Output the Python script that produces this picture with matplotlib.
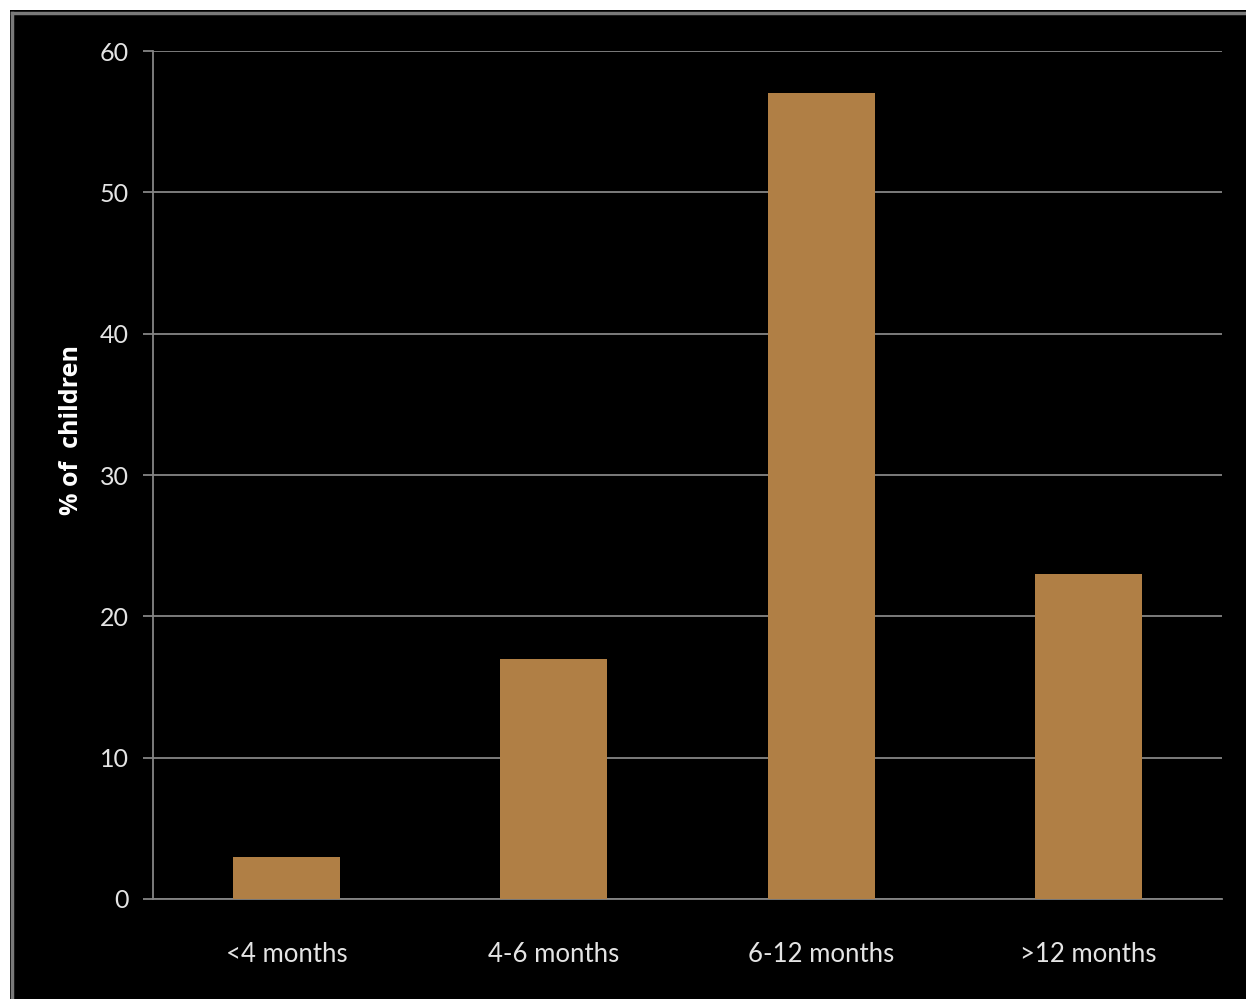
import matplotlib
matplotlib.use("Agg")
import matplotlib.pyplot as plt
from matplotlib.patches import Rectangle
from matplotlib.lines import Line2D

categories = ["<4 months", "4-6 months", "6-12 months", ">12 months"]
percent_children = [3, 17, 57, 23]
y_ticks = [0, 10, 20, 30, 40, 50, 60]

W, H = 1246, 999
fig = plt.figure(figsize=(W / 100, H / 100), dpi=100, facecolor="white")

# black slide panel with grey frame on top and left
fig.patches.append(Rectangle((10 / W, 0), 1 - 10 / W, 1 - 10 / H,
                             transform=fig.transFigure, facecolor="black",
                             edgecolor="none", zorder=-2))
fig.lines.append(Line2D([11.5 / W, 1], [1 - 13 / H, 1 - 13 / H],
                        transform=fig.transFigure, color="#7a7a7a", lw=2.5,
                        zorder=-1))
fig.lines.append(Line2D([11.5 / W, 11.5 / W], [0, 1 - 13 / H],
                        transform=fig.transFigure, color="#7a7a7a", lw=2.5,
                        zorder=-1))

ax = fig.add_axes([153 / W, 1 - 899 / H, (1222 - 153) / W, (899 - 51) / H])
ax.set_zorder(2)
ax.set_facecolor("black")

x = list(range(len(categories)))
ax.bar(x, percent_children, width=0.4, color="#b07f45", zorder=3)

ax.set_xlim(-0.5, len(categories) - 0.5)
ax.set_ylim(0, 60)
ax.set_yticks(y_ticks)
ax.set_xticks(x)
ax.set_xticklabels(categories)

grid_c = "#858585"
ax.yaxis.grid(True, color=grid_c, lw=1.3, zorder=1)
ax.xaxis.grid(False)
ax.set_axisbelow(True)
for side in ["top", "right"]:
    ax.spines[side].set_visible(False)
ax.spines["left"].set_color(grid_c)
ax.spines["bottom"].set_color(grid_c)
ax.spines["left"].set_linewidth(1.3)
ax.spines["bottom"].set_linewidth(1.3)

ax.tick_params(axis="y", direction="out", length=7.5, width=1.3, color=grid_c,
               labelcolor="#e4e4e4", labelsize=18, pad=10)
ax.tick_params(axis="x", length=0, labelcolor="#e4e4e4", labelsize=18.5, pad=31)
for lbl in ax.get_xticklabels() + ax.get_yticklabels():
    lbl.set_family(["Lato", "DejaVu Sans"])

fig.text(72 / W, 1 - 430 / H, "% of  children", rotation=90, ha="center",
         va="center", color="white", fontsize=18, fontweight="bold",
         family=["Open Sans", "DejaVu Sans"])

fig.savefig("out.png", dpi=100, facecolor="white")
